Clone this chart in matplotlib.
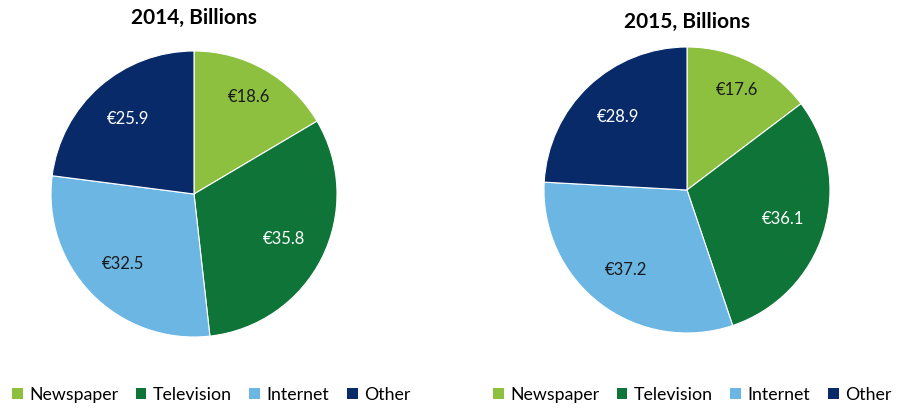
import matplotlib.pyplot as plt
from matplotlib.patches import Patch

plt.rcParams['font.family'] = ['Lato', 'DejaVu Sans']

categories = ['Newspaper', 'Television', 'Internet', 'Other']
values_2014 = [18.6, 35.8, 32.5, 25.9]
values_2015 = [17.6, 36.1, 37.2, 28.9]
titles = ['2014, Billions', '2015, Billions']
colores = ['#8DC03F', '#0E7437', '#6CB6E3', '#082A69']
color_texto = ['#1a1a1a', 'white', '#1a1a1a', 'white']

W, H = 911, 409
fig = plt.figure(figsize=(W / 100, H / 100), dpi=100)

# centro y radio de cada pastel en pixeles
pies = [(194, 194, 143), (687, 190, 143)]
title_y = [18, 22]
legend_x = [12, 493]

for i, (vals, (cx, cy, r)) in enumerate(zip([values_2014, values_2015], pies)):
    ax = fig.add_axes([(cx - r) / W, (H - cy - r) / H, 2 * r / W, 2 * r / H])
    wedges, texts = ax.pie(vals, colors=colores, startangle=90, counterclock=False,
                           labels=['€%.1f' % v for v in vals], labeldistance=0.7,
                           wedgeprops=dict(linewidth=0.8, edgecolor='white'))
    for t, c in zip(texts, color_texto):
        t.set_color(c)
        t.set_fontsize(12)
        t.set_ha('center')
        t.set_va('center')
    # la etiqueta del periodico va un poco mas afuera
    x, y = texts[0].get_position()
    texts[0].set_position((x * 1.12, y * 1.12))
    ax.set_xlim(-1, 1)
    ax.set_ylim(-1, 1)
    ax.set_aspect('equal')

    fig.text(cx / W, 1 - title_y[i] / H, titles[i], ha='center', va='center',
             fontsize=15, fontweight='bold')

    handles = [Patch(facecolor=c, label=n) for c, n in zip(colores, categories)]
    fig.legend(handles=handles, loc='center left', ncol=4, frameon=False,
               bbox_to_anchor=(legend_x[i] / W, 1 - 395 / H), fontsize=12.8,
               handlelength=0.6, handleheight=0.6, handletextpad=0.35,
               columnspacing=1.0, borderaxespad=0, borderpad=0)

plt.savefig('out.png', dpi=100)
